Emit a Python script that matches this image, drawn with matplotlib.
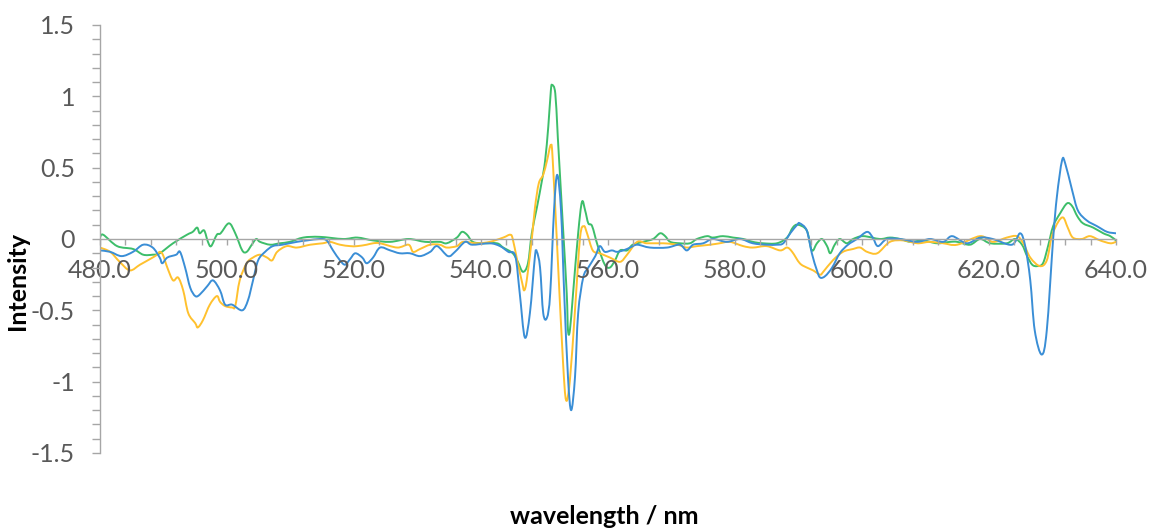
import matplotlib
matplotlib.use("Agg")
import matplotlib.pyplot as plt
from matplotlib.path import Path
from matplotlib.patches import PathPatch
from matplotlib.ticker import MultipleLocator, FuncFormatter

plt.rcParams['font.family'] = ['Lato', 'DejaVu Sans']

# wavelength (nm) / intensity pairs, one pair of lists per series
blue_wl = [480.0, 481.6, 483.4, 485.2, 486.8, 488.3, 489.4, 489.8, 490.6, 492.0, 492.6, 493.4,
           494.2, 495.0, 495.7, 496.9, 497.8, 498.9, 499.7, 500.8, 502.4, 503.3, 504.1, 504.9,
           506.0, 507.2, 508.7, 511.0, 512.6, 514.6, 515.7, 516.7, 517.8, 518.6, 519.4, 520.2,
           521.3, 522.0, 523.0, 524.1, 525.7, 527.2, 528.8, 530.4, 532.0, 533.1, 534.8, 535.9,
           537.5, 538.6, 541.4, 543.0, 544.3, 545.4, 546.1, 546.9, 547.7, 548.5, 548.8, 549.3,
           549.8, 550.4, 550.9, 551.5, 552.0, 552.6, 553.1, 553.7, 554.2, 554.8, 555.3, 556.1,
           556.9, 558.0, 558.7, 559.5, 560.6, 561.4, 562.4, 563.5, 564.6, 566.6, 569.3, 571.3,
           572.4, 573.4, 575.0, 576.5, 578.7, 580.8, 582.8, 585.0, 586.6, 587.6, 588.7, 589.8,
           590.2, 591.3, 592.1, 592.9, 593.4, 594.2, 595.3, 596.5, 597.8, 599.2, 600.8, 601.7,
           602.5, 603.9, 606.0, 608.7, 610.7, 612.8, 614.2, 616.5, 618.6, 620.6, 623.6, 624.9,
           625.7, 626.5, 627.2, 628.3, 629.1, 630.1, 630.7, 631.5, 632.0, 633.1, 634.0, 635.4,
           637.0, 638.6, 640.0]
blue_val = [-0.08, -0.09, -0.12, -0.09, -0.04, -0.06, -0.13, -0.17, -0.13, -0.11, -0.09, -0.20,
            -0.34, -0.40, -0.39, -0.33, -0.29, -0.36, -0.46, -0.46, -0.50, -0.43, -0.29, -0.15,
            -0.09, -0.05, -0.04, -0.02, -0.01, 0.00, -0.01, -0.08, -0.15, -0.18, -0.14, -0.10,
            -0.13, -0.17, -0.13, -0.06, -0.08, -0.10, -0.10, -0.12, -0.09, -0.05, -0.12, -0.09,
            -0.02, -0.04, -0.03, -0.05, -0.09, -0.12, -0.38, -0.69, -0.52, -0.12, -0.09, -0.20,
            -0.52, -0.55, -0.38, 0.20, 0.45, 0.20, -0.38, -0.97, -1.20, -0.97, -0.52, -0.27,
            -0.20, -0.12, -0.05, -0.09, -0.08, -0.09, -0.08, -0.06, -0.04, -0.06, -0.06, -0.04,
            -0.08, -0.04, -0.03, 0.00, -0.02, 0.00, -0.03, -0.04, -0.04, -0.03, 0.04, 0.10,
            0.11, 0.06, -0.10, -0.22, -0.27, -0.26, -0.20, -0.10, -0.04, 0.00, 0.05, 0.01,
            -0.05, 0.00, 0.00, -0.02, 0.00, -0.02, 0.02, -0.03, 0.01, 0.00, -0.04, 0.04,
            -0.05, -0.29, -0.64, -0.81, -0.64, 0.00, 0.30, 0.55, 0.53, 0.34, 0.20, 0.13,
            0.09, 0.05, 0.04]

green_wl = [480.0, 480.5, 482.7, 485.2, 486.8, 488.3, 489.4, 491.5, 493.7, 494.6, 495.3, 495.7,
            496.4, 497.0, 497.5, 498.4, 499.0, 500.3, 501.3, 502.4, 503.1, 503.9, 504.6, 505.2,
            506.8, 508.3, 509.9, 512.0, 514.6, 518.3, 520.5, 523.0, 525.7, 528.6, 531.2, 533.5,
            534.6, 536.2, 537.0, 537.8, 538.7, 540.3, 542.5, 543.5, 545.0, 545.8, 546.6, 547.4,
            548.0, 548.8, 549.6, 550.1, 550.6, 551.0, 551.2, 551.7, 552.1, 552.9, 553.5, 553.7,
            554.0, 554.5, 555.3, 555.9, 556.4, 556.9, 557.5, 558.4, 559.5, 560.3, 561.1, 561.9,
            563.0, 563.9, 565.5, 567.1, 568.2, 569.0, 569.8, 571.3, 572.9, 574.0, 575.6, 576.5,
            578.1, 579.7, 581.3, 582.8, 584.4, 586.6, 588.2, 589.1, 589.9, 591.3, 592.1, 592.9,
            593.7, 594.5, 595.0, 595.7, 596.5, 597.6, 598.6, 600.2, 602.8, 604.4, 606.0, 607.6,
            609.6, 611.8, 613.9, 615.0, 617.0, 618.6, 620.2, 622.8, 624.1, 625.2, 626.0, 626.8,
            627.6, 628.5, 629.3, 630.1, 631.2, 632.3, 633.1, 633.9, 634.8, 636.4, 638.0, 639.1,
            640.0]
green_val = [0.01, 0.03, -0.05, -0.07, -0.11, -0.11, -0.10, -0.03, 0.03, 0.05, 0.08, 0.04,
             0.06, -0.02, -0.05, 0.03, 0.04, 0.11, 0.04, -0.08, -0.09, -0.04, 0.00, -0.02,
             -0.04, -0.03, -0.02, 0.01, 0.015, 0.00, 0.01, -0.01, -0.02, 0.00, -0.02, -0.02,
             -0.03, 0.01, 0.05, 0.03, -0.02, -0.03, -0.03, -0.06, -0.10, -0.16, -0.23, -0.17,
             0.04, 0.22, 0.41, 0.55, 0.79, 1.04, 1.08, 1.02, 0.71, 0.09, -0.38, -0.64,
             -0.64, -0.38, 0.04, 0.26, 0.20, 0.11, 0.09, -0.05, -0.18, -0.20, -0.15, -0.08,
             -0.08, -0.04, -0.02, 0.00, 0.04, 0.02, -0.02, -0.03, -0.03, 0.00, 0.02, 0.01,
             0.02, 0.01, 0.00, -0.02, -0.03, -0.03, 0.01, 0.08, 0.10, 0.06, -0.08, -0.03,
             0.00, -0.05, -0.10, -0.04, 0.00, -0.03, 0.00, 0.02, 0.00, 0.01, 0.00, -0.02,
             -0.01, -0.03, -0.02, -0.02, -0.04, 0.00, -0.03, -0.03, 0.00, -0.04, -0.12, -0.18,
             -0.19, -0.17, -0.05, 0.09, 0.18, 0.25, 0.23, 0.16, 0.11, 0.08, 0.04, 0.02,
             -0.01]

yellow_wl = [480.0, 481.6, 483.1, 484.7, 486.3, 487.9, 489.0, 489.4, 489.9, 490.6, 491.5, 492.3,
             493.1, 493.9, 495.0, 495.4, 496.2, 497.3, 498.4, 498.9, 499.7, 500.8, 501.3, 502.0,
             503.1, 504.1, 505.2, 506.3, 507.1, 507.9, 509.4, 511.0, 513.1, 515.1, 516.2, 517.8,
             519.4, 520.5, 522.0, 523.0, 524.1, 526.8, 528.6, 529.3, 530.4, 532.0, 533.5, 534.6,
             536.2, 537.2, 539.4, 541.4, 543.5, 544.6, 545.0, 545.7, 546.5, 546.8, 547.2, 548.0,
             548.5, 549.1, 549.8, 550.4, 551.0, 551.3, 552.1, 552.9, 553.4, 554.0, 554.8, 555.6,
             556.2, 556.7, 557.6, 558.7, 560.3, 561.9, 563.0, 564.6, 566.1, 568.7, 570.9, 572.4,
             574.0, 576.1, 577.6, 579.2, 581.3, 582.8, 585.0, 587.1, 588.2, 589.0, 590.2, 591.3,
             592.3, 593.4, 593.9, 595.4, 597.0, 598.6, 599.7, 600.8, 602.4, 604.4, 606.5, 608.7,
             610.7, 612.8, 615.0, 618.6, 620.6, 622.8, 624.4, 625.4, 626.5, 628.0, 629.1, 629.9,
             630.9, 631.7, 632.4, 633.2, 634.6, 635.9, 637.5, 639.1, 640.0]
yellow_val = [-0.06, -0.09, -0.16, -0.22, -0.18, -0.14, -0.11, -0.09, -0.11, -0.20, -0.29, -0.27,
              -0.36, -0.52, -0.59, -0.62, -0.57, -0.46, -0.40, -0.44, -0.47, -0.48, -0.47, -0.29,
              -0.17, -0.13, -0.11, -0.13, -0.15, -0.09, -0.05, -0.06, -0.04, -0.03, -0.02, -0.04,
              -0.05, -0.05, -0.04, -0.03, -0.03, -0.06, -0.04, -0.09, -0.07, -0.04, -0.04, -0.06,
              -0.05, -0.02, -0.03, -0.02, 0.01, 0.03, 0.00, -0.15, -0.31, -0.36, -0.29, 0.00,
              0.22, 0.39, 0.45, 0.55, 0.66, 0.55, -0.15, -0.85, -1.13, -0.99, -0.50, 0.01,
              0.09, 0.04, -0.08, -0.10, -0.13, -0.16, -0.11, -0.02, -0.03, -0.03, -0.04, -0.06,
              -0.05, -0.04, -0.03, -0.02, -0.05, -0.06, -0.05, -0.08, -0.06, -0.09, -0.17, -0.20,
              -0.22, -0.25, -0.23, -0.15, -0.09, -0.07, -0.06, -0.09, -0.10, -0.02, -0.01, -0.03,
              -0.02, -0.03, -0.04, 0.02, -0.02, 0.01, 0.02, -0.03, -0.13, -0.19, -0.15, 0.02,
              0.12, 0.15, 0.08, 0.01, 0.00, 0.02, -0.01, -0.03, -0.02]

x_ticks = [480, 500, 520, 540, 560, 580, 600, 620, 640]
y_ticks = [-1.5, -1, -0.5, 0, 0.5, 1, 1.5]

grey = '#595959'
axis_grey = '#A6A6A6'


def smooth_line(ax, xs, ys, color):
    # Excel style "smoothed line": cubic bezier segments through the points
    n = len(xs)
    verts = [(xs[0], ys[0])]
    codes = [Path.MOVETO]
    for i in range(n - 1):
        x0, y0 = xs[max(i - 1, 0)], ys[max(i - 1, 0)]
        x1, y1 = xs[i], ys[i]
        x2, y2 = xs[i + 1], ys[i + 1]
        x3, y3 = xs[min(i + 2, n - 1)], ys[min(i + 2, n - 1)]
        c1 = (x1 + (x2 - x0) / 6.0, y1 + (y2 - y0) / 6.0)
        c2 = (x2 - (x3 - x1) / 6.0, y2 - (y3 - y1) / 6.0)
        verts += [c1, c2, (x2, y2)]
        codes += [Path.CURVE4] * 3
    ax.add_patch(PathPatch(Path(verts, codes), facecolor='none', edgecolor=color,
                           lw=1.4, capstyle='round', joinstyle='round'))


fig = plt.figure(figsize=(11.51, 5.29), dpi=100)
ax = fig.add_axes([100/1151, 76/529, 1016/1151, 428/529])

smooth_line(ax, green_wl, green_val, '#3DBE6A')
smooth_line(ax, yellow_wl, yellow_val, '#FFC12E')
smooth_line(ax, blue_wl, blue_val, '#3A8ED6')

ax.set_xlim(480, 640)
ax.set_ylim(-1.5, 1.5)

ax.spines['top'].set_visible(False)
ax.spines['right'].set_visible(False)
ax.spines['bottom'].set_position(('data', 0))
for s in ['left', 'bottom']:
    ax.spines[s].set_color(axis_grey)
    ax.spines[s].set_linewidth(1.0)

ax.set_xticks(x_ticks)
ax.xaxis.set_minor_locator(MultipleLocator(4))
ax.set_yticks(y_ticks)
ax.yaxis.set_minor_locator(MultipleLocator(0.1))
ax.xaxis.set_major_formatter(FuncFormatter(lambda v, p: '%.1f' % v))
ax.yaxis.set_major_formatter(FuncFormatter(lambda v, p: ('%g' % v)))

ax.tick_params(axis='x', which='both', direction='out', length=4.5, width=1,
               color=axis_grey, labelsize=18, labelcolor=grey, pad=10)
ax.tick_params(axis='y', which='both', direction='out', length=6, width=1,
               color=axis_grey, labelsize=18, labelcolor=grey, pad=12)

fig.text(18/1151, 1 - 281/529, 'Intensity', rotation=90, fontsize=18,
         fontweight='bold', color='black', ha='center', va='center')
fig.text(604/1151, 1 - 517/529, 'wavelength / nm', fontsize=18,
         fontweight='bold', color='black', ha='center', va='center')

fig.savefig('out.png', dpi=100)
